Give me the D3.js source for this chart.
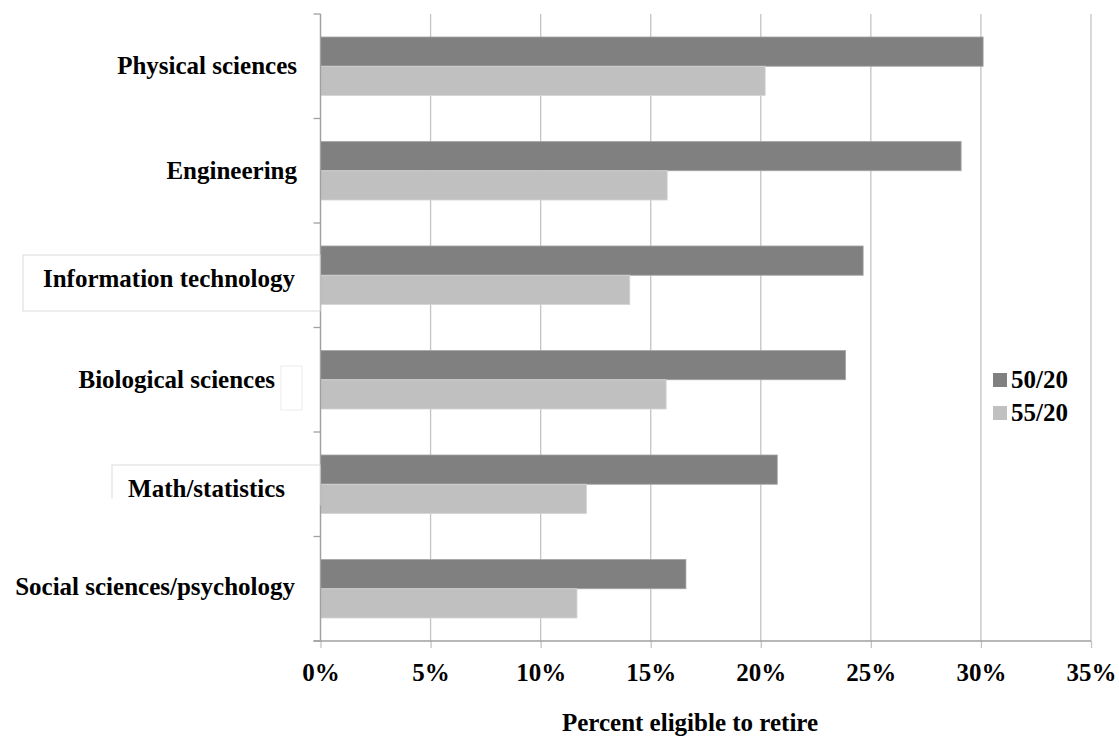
<!DOCTYPE html>
<html>
<head>
<meta charset="utf-8">
<script src="https://cdn.jsdelivr.net/npm/d3@7"></script>
<style>
  html, body { margin: 0; padding: 0; background: #fff; }
  svg text { font-family: "Liberation Serif", "Times New Roman", serif; font-weight: bold; fill: #000; }
</style>
</head>
<body>
<svg id="chart" width="1119" height="736"></svg>
<script>
// ---- data ----
const categories = ["Physical sciences", "Engineering", "Information technology",
                    "Biological sciences", "Math/statistics", "Social sciences/psychology"];
const seriesNames = ["50/20", "55/20"];
const values5020 = [30.1, 29.1, 24.65, 23.85, 20.75, 16.6];
const values5520 = [20.2, 15.75, 14.05, 15.7, 12.08, 11.65];
const tickValues = [0, 5, 10, 15, 20, 25, 30, 35];
const xTitle = "Percent eligible to retire";

// ---- layout (not data) ----
const W = 1119, H = 736;
const plot = { left: 320.5, right: 1091, top: 14, bottom: 641 };
const colors = ["#808080", "#c0c0c0"];
const strokes = ["#a6a6a6", "#d4d4d4"];
const labelRight = [297, 297, 295, 275, 285, 295];
const labelDy = [0, 0, 3.5, 0, 4.5, -2];

const svg = d3.select("#chart");

const x = d3.scaleLinear().domain([0, 35]).range([plot.left, plot.right]);
const y = d3.scaleBand().domain(categories).range([plot.top, plot.bottom])
  .paddingInner(0.44).paddingOuter(0.22);
const ys = d3.scaleBand().domain(seriesNames).range([0, y.bandwidth()]);

const rows = categories.map((c, i) => ({ cat: c, vals: [values5020[i], values5520[i]] }));

// gridlines
svg.append("g").selectAll("line").data(tickValues).join("line")
  .attr("x1", d => x(d)).attr("x2", d => x(d))
  .attr("y1", plot.top).attr("y2", plot.bottom)
  .attr("stroke", "#c4c4c4").attr("stroke-width", 1.3);

// bars
const g = svg.append("g");
rows.forEach(r => {
  seriesNames.forEach((s, si) => {
    g.append("rect")
      .attr("x", x(0))
      .attr("y", y(r.cat) + ys(s))
      .attr("width", x(r.vals[si]) - x(0))
      .attr("height", ys.bandwidth())
      .attr("fill", colors[si])
      .attr("stroke", strokes[si]).attr("stroke-width", 0.8);
  });
});

// x axis (bottom)
const xAxis = d3.axisBottom(x).tickValues(tickValues).tickSize(7).tickSizeOuter(0)
  .tickFormat(d => d + "%");
const xg = svg.append("g").attr("transform", `translate(0,${plot.bottom})`).call(xAxis);
xg.select(".domain").remove();
xg.selectAll(".tick line").attr("stroke", "#c4c4c4").attr("stroke-width", 1.3);
xg.selectAll(".tick text").attr("y", 40).attr("dy", 0)
  .style("font-size", "25px").style("font-family", "Liberation Serif").style("font-weight", "bold").attr("fill", "#000");
svg.append("line").attr("x1", plot.left - 7).attr("x2", plot.right)
  .attr("y1", plot.bottom).attr("y2", plot.bottom)
  .attr("stroke", "#a0a0a0").attr("stroke-width", 1.3);

// y axis (left) with ticks at category boundaries
const boundaries = categories.map(c => y(c) - y.step() * y.paddingInner() / 2).concat([plot.bottom]);
boundaries[0] = plot.top;
svg.append("g").selectAll("line").data(boundaries).join("line")
  .attr("x1", plot.left - 7).attr("x2", plot.left)
  .attr("y1", d => d).attr("y2", d => d)
  .attr("stroke", "#a0a0a0").attr("stroke-width", 1.3);
svg.append("line").attr("x1", plot.left).attr("x2", plot.left)
  .attr("y1", plot.top).attr("y2", plot.bottom)
  .attr("stroke", "#a0a0a0").attr("stroke-width", 1.3);

// white label boxes (artifacts in reference)
svg.append("rect").attr("x", 23).attr("y", 255).attr("width", 297).attr("height", 56)
  .attr("fill", "#fff").attr("stroke", "#dcdcdc").attr("stroke-width", 1);
svg.append("rect").attr("x", 281).attr("y", 366).attr("width", 21).attr("height", 44)
  .attr("fill", "#fff").attr("stroke", "#ececec").attr("stroke-width", 1);
svg.append("rect").attr("x", 112).attr("y", 465).attr("width", 208).attr("height", 40)
  .attr("fill", "#fff").attr("stroke", "#dcdcdc").attr("stroke-width", 1);
svg.append("defs").append("clipPath").attr("id", "mathclip")
  .append("rect").attr("x", 100).attr("y", 460).attr("width", 220).attr("height", 38.5);
svg.append("rect").attr("x", 105).attr("y", 498.5).attr("width", 214).attr("height", 10).attr("fill", "#fff");

// category labels
svg.append("g").selectAll("text").data(categories).join("text")
  .attr("x", (d, i) => labelRight[i])
  .attr("y", (d, i) => y(d) + y.bandwidth() / 2 + 8 + labelDy[i])
  .attr("text-anchor", "end")
  .attr("clip-path", (d, i) => i === 4 ? "url(#mathclip)" : null)
  .style("font-size", "25px")
  .text(d => d);

// axis title
svg.append("text").attr("x", 690).attr("y", 731).attr("text-anchor", "middle")
  .style("font-size", "25px").text(xTitle);

// legend
const lg = svg.append("g");
seriesNames.forEach((s, i) => {
  lg.append("rect").attr("x", 993).attr("y", 373 + i * 33).attr("width", 14).attr("height", 14)
    .attr("fill", colors[i]);
  lg.append("text").attr("x", 1011).attr("y", 388 + i * 33).style("font-size", "25px").text(s);
});
</script>
</body>
</html>
